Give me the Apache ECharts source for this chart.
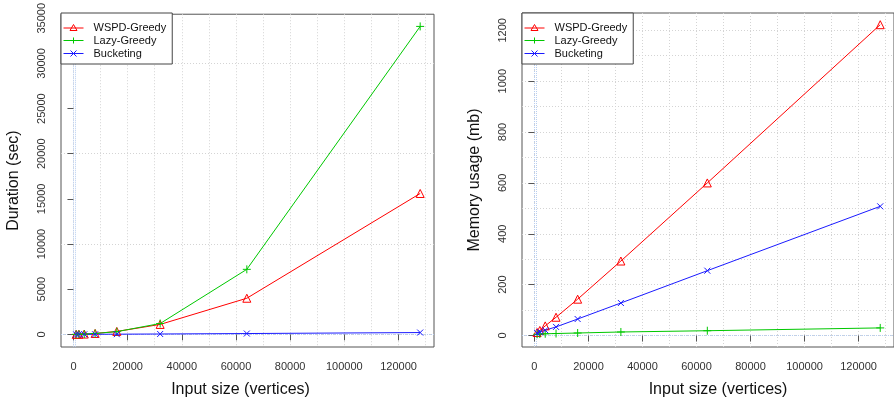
<!DOCTYPE html>
<html>
<head>
<meta charset="utf-8">
<script src="https://cdn.jsdelivr.net/npm/echarts@6/dist/echarts.min.js"></script>
<style>
html,body{margin:0;padding:0;background:#fff;}
#c{width:894px;height:406px;}
</style>
</head>
<body>
<div id="c"></div>
<script>
// ---- data ----
var seriesNames = ['WSPD-Greedy', 'Lazy-Greedy', 'Bucketing'];
var inputSizes = [1000, 2000, 4000, 8000, 16000, 32000, 64000, 128000];
var durationWspd   = [5, 12, 35, 100, 320, 1100, 4000, 15600];
var durationLazy   = [2, 8, 30, 100, 300, 1200, 7200, 34100];
var durationBucket = [1, 2, 4, 9, 20, 40, 90, 200];
var memoryWspd   = [12, 20, 38, 72, 143, 293, 600, 1222];
var memoryLazy   = [5, 6, 7, 8, 10, 14, 19, 30];
var memoryBucket = [10, 14, 21, 34, 65, 128, 255, 508];
var xTickLabels = [0, 20000, 40000, 60000, 80000, 100000, 120000];
var durationTickLabels = [0, 5000, 10000, 15000, 20000, 25000, 30000, 35000];
var memoryTickLabels = [0, 200, 400, 600, 800, 1000, 1200];
var xGridValues = [0, 10000, 20000, 30000, 40000, 50000, 60000, 70000, 80000, 90000, 100000, 110000, 120000, 130000];
var durationGridValues = [0, 10000, 20000, 30000];
var memoryGridValues = [0, 100, 200, 300, 400, 500, 600, 700, 800, 900, 1000, 1100, 1200];

var FONT = '"Liberation Sans", Arial, Helvetica, sans-serif';
var COLORS = ['#ff0000', '#00c800', '#1a1aff'];
var SYMBOLS = ['triangle', 'path://M5,0L5,10M0,5L10,5', 'path://M0,0L10,10M0,10L10,0'];
var FILLS = ['rgba(255,255,255,0)', '#00c800', '#1a1aff'];
var SIZES = [8, 8, 6];
var LEGEND_ICONS = [
  'path://M0,3.5L20,3.5M10,0L13.5,6L6.5,6Z',
  'path://M0,3L20,3M10,0L10,6',
  'path://M0,3L20,3M7,0L13,6M7,6L13,0'
];
var XMIN = -4600, XMAX = 133100;

function pairs(xs, ys) { return xs.map(function (x, i) { return [x, ys[i]]; }); }
function plain(v) { return String(v); }

var grids = [
  {left: 61, top: 13, width: 373, height: 334, show: true, borderColor: '#555', borderWidth: 1, backgroundColor: 'transparent'},
  {left: 522, top: 13, width: 373, height: 334, show: true, borderColor: '#555', borderWidth: 1, backgroundColor: 'transparent'}
];

var xAxes = [], yAxes = [];
function addAxes(g, ymin, ymax, yTicks, yGrid, yName, xNameShift) {
  xAxes.push({
    gridIndex: g, type: 'value', min: XMIN, max: XMAX,
    axisLine: {show: false},
    axisTick: {show: true, customValues: xTickLabels, length: 6, lineStyle: {color: '#555'}},
    axisLabel: {customValues: xTickLabels, formatter: plain, fontSize: 11, color: '#333', margin: 14, fontFamily: FONT},
    splitLine: {show: false},
    name: 'Input size (vertices)', nameLocation: 'middle', nameGap: 35,
    nameTextStyle: {fontSize: 16, color: '#111', fontFamily: FONT, padding: xNameShift > 0 ? [0, 0, 0, 2 * xNameShift] : [0, -2 * xNameShift, 0, 0]}
  });
  xAxes.push({
    gridIndex: g, type: 'value', min: XMIN, max: XMAX,
    axisLine: {show: false},
    axisTick: {show: false, customValues: xGridValues},
    axisLabel: {show: false},
    splitLine: {show: true, lineStyle: {type: [1, 2], color: '#d4d4d4', width: 1}}
  });
  xAxes.push({
    gridIndex: g, type: 'value', min: XMIN, max: XMAX,
    axisLine: {show: false},
    axisTick: {show: false, customValues: [0, 600]},
    axisLabel: {show: false},
    splitLine: {show: true, lineStyle: {type: [1, 1], color: '#b8cef0', width: 1}}
  });
  yAxes.push({
    gridIndex: g, type: 'value', min: ymin, max: ymax,
    axisLine: {show: false},
    axisTick: {show: true, customValues: yTicks, length: 6, lineStyle: {color: '#555'}},
    axisLabel: {customValues: yTicks, formatter: plain, fontSize: 11, color: '#333', margin: 14, rotate: 90, fontFamily: FONT},
    splitLine: {show: false},
    name: yName, nameLocation: 'middle', nameGap: 39, nameRotate: 90,
    nameTextStyle: {fontSize: 16, color: '#111', fontFamily: FONT}
  });
  yAxes.push({
    gridIndex: g, type: 'value', min: ymin, max: ymax,
    axisLine: {show: false},
    axisTick: {show: false, customValues: yGrid},
    axisLabel: {show: false},
    splitLine: {show: true, lineStyle: {type: [1, 2], color: '#d4d4d4', width: 1}}
  });
  yAxes.push({
    gridIndex: g, type: 'value', min: ymin, max: ymax,
    axisLine: {show: false},
    axisTick: {show: false, customValues: [0]},
    axisLabel: {show: false},
    splitLine: {show: true, lineStyle: {type: [1, 1], color: '#b8cef0', width: 1}}
  });
}
addAxes(0, -1400, 35450, durationTickLabels, durationGridValues, 'Duration (sec)', -7);
addAxes(1, -45, 1268, memoryTickLabels, memoryGridValues, 'Memory usage (mb)', 10);

var chartData = [
  [durationWspd, durationLazy, durationBucket],
  [memoryWspd, memoryLazy, memoryBucket]
];
var series = [];
chartData.forEach(function (sets, g) {
  sets.forEach(function (ys, k) {
    series.push({
      name: seriesNames[k], type: 'line',
      xAxisIndex: g * 3, yAxisIndex: g * 3,
      data: pairs(inputSizes, ys),
      symbol: SYMBOLS[k], symbolSize: SIZES[k], showSymbol: true,
      color: COLORS[k],
      lineStyle: {color: COLORS[k], width: 1},
      itemStyle: {color: FILLS[k], borderColor: COLORS[k], borderWidth: 1},
      emphasis: {disabled: true},
      animation: false, z: 3
    });
  });
});

function legendAt(left) {
  return {
    left: left, top: 13, orient: 'vertical',
    data: seriesNames.map(function (n, k) {
      return {
        name: n, icon: LEGEND_ICONS[k],
        itemStyle: {color: k === 0 ? 'rgba(255,255,255,0)' : COLORS[k], borderColor: COLORS[k], borderWidth: 1, opacity: 1},
        lineStyle: {color: COLORS[k], width: 1, opacity: 1}
      };
    }),
    itemWidth: 20, itemHeight: 7, itemGap: 0,
    padding: [8, 6, 4, 2],
    borderColor: '#444', borderWidth: 1, backgroundColor: '#fff',
    textStyle: {fontSize: 11, color: '#111', fontFamily: FONT, padding: [0, 0, 0, 5], lineHeight: 13},
    selectedMode: false, z: 10
  };
}

var chart = echarts.init(document.getElementById('c'), null, {renderer: 'canvas'});
chart.setOption({
  animation: false,
  backgroundColor: '#fff',
  textStyle: {fontFamily: FONT},
  grid: grids,
  xAxis: xAxes,
  yAxis: yAxes,
  legend: [legendAt(61), legendAt(522)],
  series: series
});
</script>
</body>
</html>
